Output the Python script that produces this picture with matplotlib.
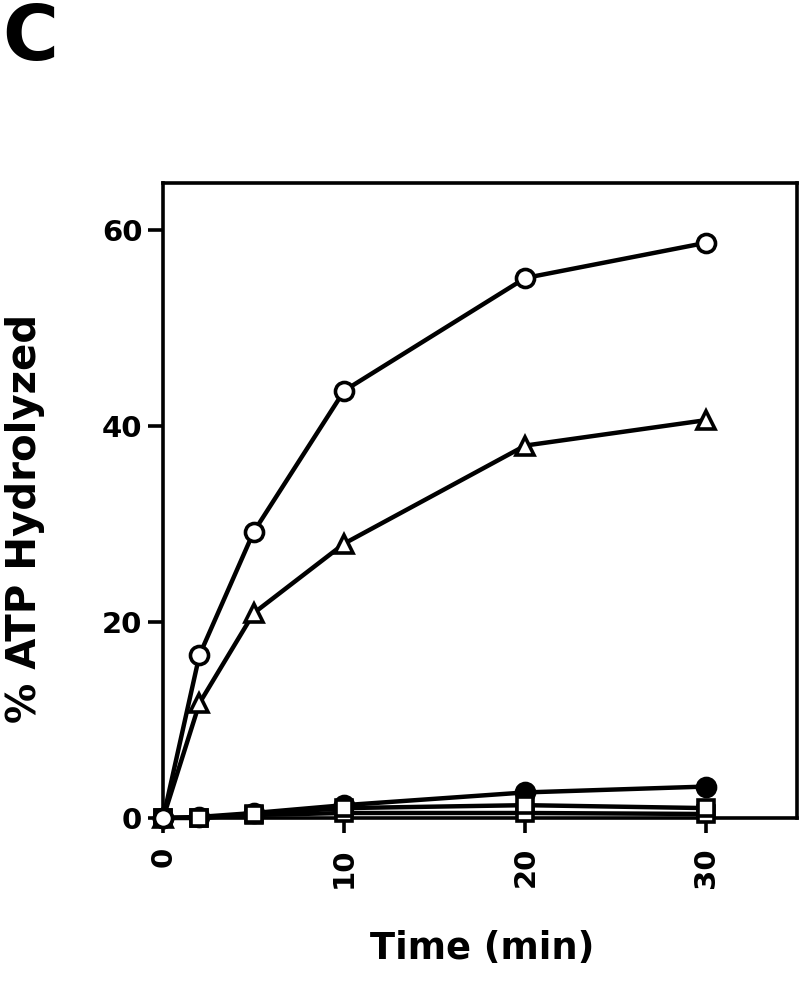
import matplotlib
matplotlib.use("Agg")
import matplotlib.pyplot as plt

plt.rcParams['font.family'] = ['DejaVu Sans']
plt.rcParams['font.weight'] = 'bold'

# data
time = [0, 2, 5, 10, 20, 30]
open_circle = [0, 16.6, 29.2, 43.6, 55.1, 58.7]
open_triangle = [0, 11.7, 20.9, 28.0, 38.0, 40.6]
filled_circle = [0, 0.1, 0.5, 1.3, 2.6, 3.2]
open_square_low = [0, 0, 0.3, 0.5, 0.5, 0.4]
open_square = [0, 0, 0.4, 1.0, 1.3, 1.0]

xticks = [0, 10, 20, 30]
yticks = [0, 20, 40, 60]

fig = plt.figure(figsize=(8, 9.89), dpi=100)
ax = fig.add_axes([0.204, 0.173, 0.792, 0.642])

def draw(y, marker, face, ms=13):
    ax.plot(time, y, color='black', lw=3.2, marker=marker, ms=ms,
            mfc=face, mec='black', mew=2.6, clip_on=False, zorder=3)

draw(open_square_low, 's', 'white', 12)
draw(filled_circle, 'o', 'black')
draw(open_square, 's', 'white', 12)
draw(open_triangle, '^', 'white')
draw(open_circle, 'o', 'white')

ax.set_xlim(0, 35)
ax.set_ylim(0, 64.8)
ax.set_xticks(xticks)
ax.set_yticks(yticks)
ax.set_xticklabels([str(v) for v in xticks], rotation=90, fontsize=21, fontweight='bold')
ax.set_yticklabels([str(v) for v in yticks], fontsize=21, fontweight='bold')
ax.tick_params(direction='out', length=11, width=2.6)
ax.tick_params(axis='x', pad=10)
ax.tick_params(axis='y', pad=4)
for s in ax.spines.values():
    s.set_linewidth(2.6)

ax.set_xlabel('Time (min)', fontsize=26.5, fontweight='bold')
ax.set_ylabel('% ATP Hydrolyzed', fontsize=29, fontweight='bold')
ax.xaxis.set_label_coords(0.503, -0.176)
ax.yaxis.set_label_coords(-0.186, 0.472)

fig.text(0.003, 0.998, 'C', fontsize=55, fontweight='bold', ha='left', va='top')

fig.savefig('out.png', dpi=100)
